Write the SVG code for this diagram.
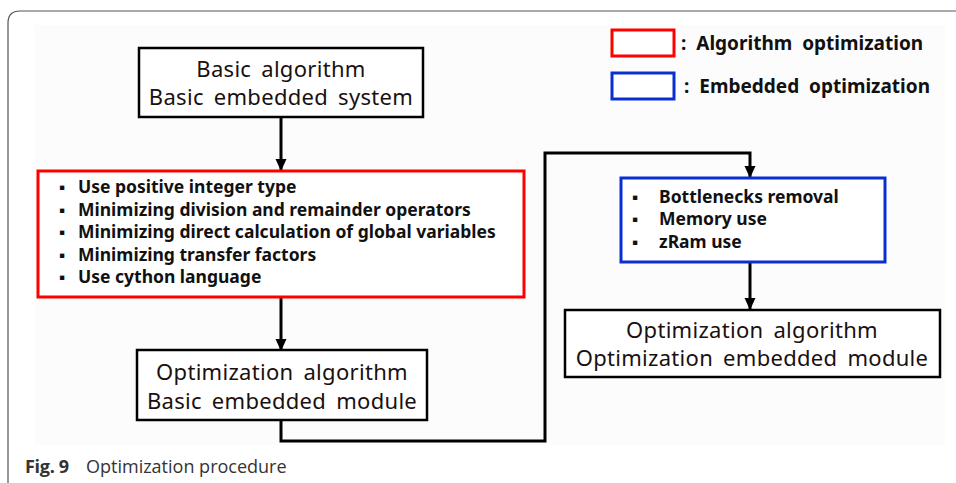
<svg xmlns="http://www.w3.org/2000/svg" width="956" height="483" viewBox="0 0 956 483">
<defs>
<marker id="ah" markerWidth="12" markerHeight="12" refX="11" refY="6" orient="auto" markerUnits="userSpaceOnUse" viewBox="0 0 12 12"><path d="M0,0.5 L12,6 L0,11.5 Z" fill="#000"/></marker>
</defs>
<style>
.box{fill:#fff;stroke:#000;stroke-width:2.5}
.red{fill:#fff;stroke:#f00;stroke-width:3}
.blue{fill:#fff;stroke:#0a2fd0;stroke-width:3}
.t{font-family:"Noto Sans","Open Sans",sans-serif;font-size:22px;word-spacing:4px;letter-spacing:0.3px;fill:#1a1010;text-anchor:middle}
.b{font-family:"Noto Sans","Open Sans",sans-serif;font-size:17.5px;font-weight:bold;fill:#111}
.lg{font-family:"Noto Sans","Open Sans",sans-serif;font-size:19px;font-weight:bold;word-spacing:5px;fill:#111}
.conn{fill:none;stroke:#000;stroke-width:3}
.cap{font-family:"Open Sans","Noto Sans",sans-serif;fill:#333}
</style>
<rect width="956" height="483" fill="#fff"/>
<path d="M956 11 H20 Q8 11 8 23 V483" fill="none" stroke="#555" stroke-width="1.2"/>
<rect x="35" y="25" width="910" height="420" fill="#fcfcfc"/>

<g id="legend">
<rect x="612" y="30" width="62" height="26" class="red"/>
<text x="681" y="50" class="lg">: Algorithm optimization</text>
<rect x="612" y="73" width="62" height="26" class="blue"/>
<text x="684" y="93" class="lg">: Embedded optimization</text>
</g>

<g id="connectors">
<line x1="281" y1="117" x2="281" y2="170" class="conn" marker-end="url(#ah)"/>
<line x1="281" y1="297" x2="281" y2="350" class="conn" marker-end="url(#ah)"/>
<polyline points="281,420 281,441 545,441 545,153 750,153 750,177" class="conn" marker-end="url(#ah)"/>
<line x1="750" y1="262" x2="750" y2="309" class="conn" marker-end="url(#ah)"/>
</g>

<g id="n-basic">
<rect x="139" y="48" width="284" height="69" class="box"/>
<text x="281" y="77" class="t">Basic algorithm</text>
<text x="281" y="105" class="t">Basic embedded system</text>
</g>

<g id="n-algo-opt">
<rect x="38" y="171" width="486" height="126" class="red"/>
<g class="b">
<text x="59" y="193">▪</text><text x="78" y="193">Use positive integer type</text>
<text x="59" y="216">▪</text><text x="78" y="216">Minimizing division and remainder operators</text>
<text x="59" y="238">▪</text><text x="78" y="238">Minimizing direct calculation of global variables</text>
<text x="59" y="261">▪</text><text x="78" y="261">Minimizing transfer factors</text>
<text x="59" y="283">▪</text><text x="78" y="283">Use cython language</text>
</g>
</g>

<g id="n-opt-basic">
<rect x="137" y="350" width="290" height="70" class="box"/>
<text x="282" y="380" class="t">Optimization algorithm</text>
<text x="282" y="409" class="t">Basic embedded module</text>
</g>

<g id="n-emb-opt">
<rect x="621" y="178" width="264" height="84" class="blue"/>
<g class="b">
<text x="632" y="203">▪</text><text x="659" y="203">Bottlenecks removal</text>
<text x="632" y="225">▪</text><text x="659" y="225">Memory use</text>
<text x="632" y="248">▪</text><text x="659" y="248">zRam use</text>
</g>
</g>

<g id="n-opt-emb">
<rect x="565" y="310" width="375" height="67" class="box"/>
<text x="752" y="338" class="t">Optimization algorithm</text>
<text x="752" y="366" class="t">Optimization embedded module</text>
</g>

<text x="25" y="473" class="cap" font-size="18" font-weight="bold" letter-spacing="-0.3">Fig. 9</text>
<text x="86" y="473" class="cap" font-size="18">Optimization procedure</text>
</svg>
